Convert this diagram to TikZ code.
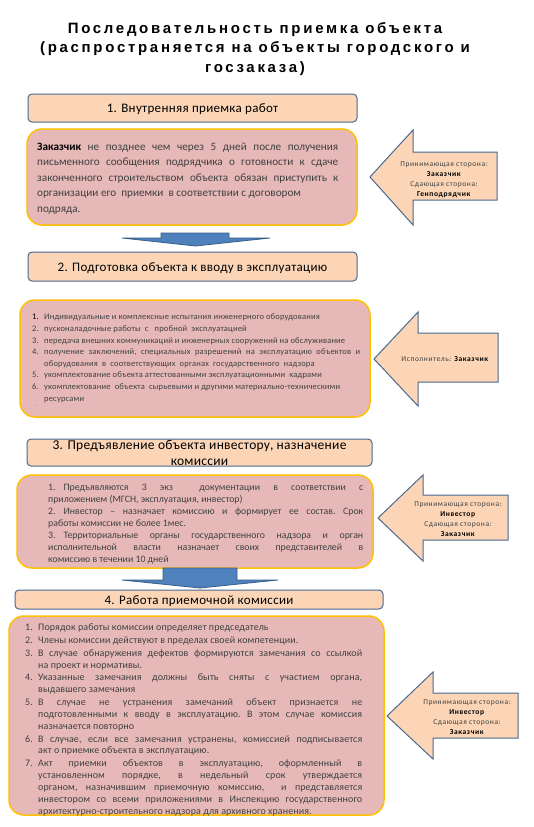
\documentclass[tikz,border=0pt]{standalone}
\usepackage{fontspec}
\setmainfont{Carlito}
\newfontfamily\titlefont[LetterSpace=18]{Liberation Sans}
\newfontfamily\hfont[LetterSpace=2.5]{Carlito}
\newfontfamily\hfontb[LetterSpace=2]{Carlito}
\newfontfamily\bfontA[LetterSpace=2]{Carlito}
\newfontfamily\bfontB[LetterSpace=1]{Carlito}
\newfontfamily\lfont[LetterSpace=8]{Carlito}
\definecolor{hdrfill}{HTML}{FBD5B5}
\definecolor{hdrdraw}{HTML}{4A6A93}
\definecolor{boxfill}{HTML}{E6B9B8}
\definecolor{boxdraw}{HTML}{FFC000}
\definecolor{arrfill}{HTML}{4F81BD}
\definecolor{arrdraw}{HTML}{385D8A}
\definecolor{txt}{HTML}{404040}
\newcommand\nitem[2]{\par\hangindent=#1\hangafter=1\noindent\makebox[#1][l]{#2}\ignorespaces}
\newcommand\pnum[1]{#1\hspace{8pt}\ignorespaces}
\newcommand\parset{\frenchspacing\parindent=0pt\parskip=0pt\tolerance=10000\hbadness=10000\emergencystretch=0pt}
\newcommand\parsetb{\parset\parskip=0.8pt}
\newcommand\fhdr{\hfont\fontsize{13}{15}\selectfont}
\newcommand\fhdrb{\hfontb\fontsize{13.5}{16}\selectfont}
\newcommand\fone{\fontsize{11.2}{15.5}\selectfont\parset}
\newcommand\ftwo{\bfontA\fontsize{8.5}{11.6}\selectfont\parset}
\newcommand\fthree{\fontsize{9.8}{12}\selectfont\parset}
\newcommand\ffour{\bfontB\fontsize{10}{11.9}\selectfont\parsetb}
\newcommand\flbl{\lfont\fontsize{7.5}{9.8}\selectfont}
\tikzset{
  hdr/.style={draw=hdrdraw, fill=hdrfill, line width=1pt, rounded corners=4pt, inner sep=0pt,
    text height=9.5pt, text depth=0pt, text=black, font=\fhdr},
  cbox/.style={draw=boxdraw, fill=boxfill, line width=1.5pt, rounded corners=15pt, inner sep=0pt},
  body/.style={anchor=north west, inner sep=0pt, text=txt, align=justify},
  larrow/.style={draw=hdrdraw, fill=hdrfill, line width=1pt, line join=miter},
  darrow/.style={draw=arrdraw, fill=arrfill, line width=0.8pt},
  lbl/.style={align=center, inner sep=0pt, text=txt, font=\flbl}
}
\begin{document}
\begin{tikzpicture}[x=1pt,y=-1pt]
\useasboundingbox[fill=white] (0,0) rectangle (533,827);

% title
\node[anchor=north, align=center, inner sep=0pt, font={\titlefont\bfseries\fontsize{15}{19.5}\selectfont}] (title) at (255,22)
  {Последовательность приемка объекта\\(распространяется на объекты городского и\\госзаказа)};

% ---- step 1
\node[hdr, minimum width=329pt, minimum height=28pt] (h1) at (192.5,108) {1. Внутренняя приемка работ};
\node[cbox, minimum width=330pt, minimum height=96pt] (c1) at (192,177) {};
\node[body, text width=301pt, font=\fone] (t1) at (37,141)
  {\rule{0pt}{9pt}{\color{black}\textbf{Заказчик}} не позднее чем через 5 дней после получения\linebreak
   письменного сообщения подрядчика о готовности к сдаче\linebreak
   законченного строительством объекта обязан приступить к\linebreak
   организации его \ приемки \ в соответствии с договором\newline
   подряда.};
\draw[darrow] (161,233) -- (229,233) -- (229,238) -- (270,238) -- (195.5,246) -- (122,238) -- (161,238) -- cycle;
\draw[larrow] (370,177) -- (413,130) -- (413,152) -- (497,152) -- (497,200) -- (413,200) -- (413,225) -- cycle;
\node[lbl] (l1) at (444,179.5) {Принимающая сторона:\\{\color{black}\textbf{Заказчик}}\\Сдающая сторона:\\{\color{black}\textbf{Генподрядчик}}};

% ---- step 2
\node[hdr, minimum width=329pt, minimum height=29pt] (h2) at (192.5,266.5) {2. Подготовка объекта к вводу в эксплуатацию};
\node[cbox, minimum width=350pt, minimum height=117pt] (c2) at (195,358.5) {};
\node[body, text width=328pt, font=\ftwo] (t2) at (32,308)
  {\nitem{12pt}{\color{black}1.}\rule{0pt}{7pt}Индивидуальные и комплексные испытания инженерного оборудования
   \nitem{12pt}{2.}пусконаладочные работы \ с \ \ пробной \ эксплуатацией
   \nitem{12pt}{3.}передача внешних коммуникаций и инженерных сооружений на обслуживание
   \nitem{12pt}{4.}получение заключений, специальных разрешений на эксплуатацию объектов и\linebreak
     оборудования \ в \ соответствующих \ органах \ государственного \ надзора
   \nitem{12pt}{5.}укомплектование объекта аттестованными эксплуатационными \ кадрами
   \nitem{12pt}{6.}укомплектование \ объекта \ сырьевыми и другими материально-техническими\newline
     ресурсами\par};
\node[text=txt, inner sep=0pt, font=\fontsize{5}{5}\selectfont] (dot) at (36,406) {.};
\draw[larrow] (374,359) -- (418,312) -- (418,333) -- (498,333) -- (498,382) -- (418,382) -- (418,406) -- cycle;
\node[lbl] (l2) at (445,359) {Исполнитель: {\color{black}\textbf{Заказчик}}};

% ---- step 3
\node[hdr, minimum width=345pt, minimum height=27pt] (h3) at (199.5,452.5) {};
\node[anchor=base, inner sep=0pt, font=\fhdrb] (h3a) at (199.5,449) {3. Предъявление объекта инвестору, назначение};
\node[anchor=base, inner sep=0pt, font=\fhdrb] (h3b) at (199.5,465) {комиссии};
\node[cbox, minimum width=356pt, minimum height=93pt] (c3) at (195,521.5) {};
\node[body, text width=315pt, font=\fthree] (t3) at (48,482)
  {\rule{0pt}{8pt}\pnum{1.} Предъявляются 3 экз \ документации в соответствии с\linebreak
   приложением (МГСН, эксплуатация, инвестор)\par
   \pnum{2.} Инвестор – назначает комиссию и формирует ее состав. Срок\linebreak
   работы комиссии не более 1мес.\par
   \pnum{3.} Территориальные органы государственного надзора и орган\linebreak
   исполнительной власти назначает своих представителей в\linebreak
   комиссию в течении 10 дней\par};
\draw[darrow] (163,568) -- (237,568) -- (237,580) -- (278,580) -- (200,588) -- (122,580) -- (163,580) -- cycle;
\draw[larrow] (378,518) -- (423,475) -- (423,495) -- (508,495) -- (508,540) -- (423,540) -- (423,561) -- cycle;
\node[lbl] (l3) at (458,519) {Принимающая сторона:\\{\color{black}\textbf{Инвестор}}\\Сдающая сторона:\\{\color{black}\textbf{Заказчик}}};

% ---- step 4
\node[hdr, minimum width=368pt, minimum height=19pt] (h4) at (199,599.5) {4. Работа приемочной комиссии};
\node[cbox, minimum width=375pt, minimum height=199pt] (c4) at (196.5,715.5) {};
\node[body, text width=337pt, font=\ffour] (t4) at (25,618)
  {\nitem{13pt}{1.}\rule{0pt}{8pt}Порядок работы комиссии определяет председатель
   \nitem{13pt}{2.}Члены комиссии действуют в пределах своей компетенции.
   \nitem{13pt}{3.}В случае обнаружения дефектов формируются замечания со ссылкой\linebreak
     на проект и нормативы.
   \nitem{13pt}{4.}Указанные замечания должны быть сняты с участием органа,\linebreak
     выдавшего замечания
   \nitem{13pt}{5.}В случае не устранения замечаний объект признается не\linebreak
     подготовленными к вводу в эксплуатацию. В этом случае комиссия\linebreak
     назначается повторно
   \nitem{13pt}{6.}В случае, если все замечания устранены, комиссией подписывается\linebreak
     акт о приемке объекта в эксплуатацию.
   \nitem{13pt}{7.}Акт приемки объектов в эксплуатацию, оформленный в\linebreak
     установленном порядке, в недельный срок утверждается\linebreak
     органом, назначившим приемочную комиссию, \ и представляется\linebreak
     инвестором со всеми приложениями в Инспекцию государственного\linebreak
     архитектурно-строительного надзора для архивного хранения.\par};
\draw[larrow] (387,716) -- (433,672) -- (433,693) -- (518,693) -- (518,738) -- (433,738) -- (433,759) -- cycle;
\node[lbl] (l4) at (467,717) {Принимающая сторона:\\{\color{black}\textbf{Инвестор}}\\Сдающая сторона:\\{\color{black}\textbf{Заказчик}}};
\end{tikzpicture}
\end{document}
